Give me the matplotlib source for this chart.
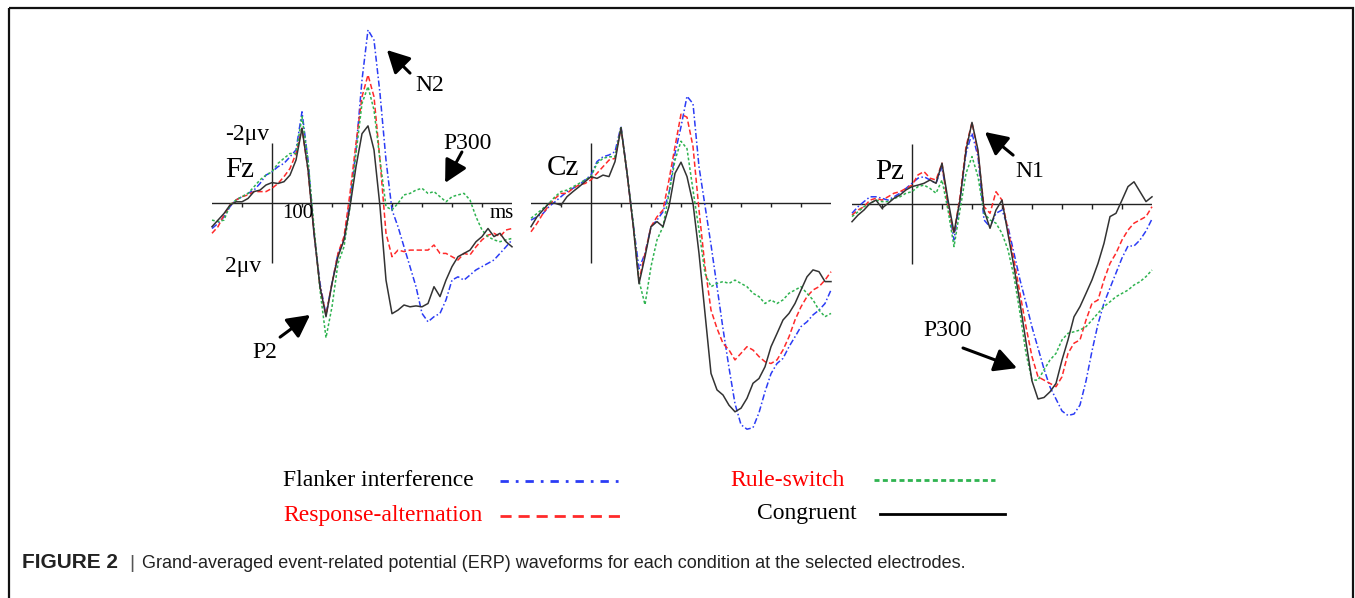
import matplotlib.pyplot as plt
import numpy as np
from matplotlib.patches import Rectangle

W, H = 1355, 598
SERIF = 'Liberation Serif'

# sample times (ms) shared by every waveform
times = np.arange(-200, 801, 20)

# ---- Fz (uV, negative drawn upward) ----
fz_flanker = [0.86, 0.69, 0.47, 0.13, -0.09, -0.2, -0.31, -0.42, -0.64, -0.92, -1.03,
              -1.2, -1.31, -1.53, -1.76, -3.03, -1.42, 1.02, 2.69, 3.74, 2.69,
              1.69, 1.24, -0.09, -1.76, -4.09, -5.76, -5.42, -3.64, -1.42, 0.24,
              0.8, 1.47, 2.13, 2.8, 3.69, 3.97, 3.8, 3.69, 3.24, 2.58,
              2.47, 2.58, 2.41, 2.24, 2.13, 2.02, 1.91, 1.69, 1.47, 1.24]
fz_response = [1.02, 0.8, 0.41, 0.08, -0.09, -0.2, -0.26, -0.37, -0.37, -0.37, -0.48,
               -0.64, -0.87, -1.14, -1.64, -2.48, -1.09, 1.02, 2.8, 3.74, 2.69,
               1.69, 1.13, -0.31, -1.98, -3.53, -4.26, -3.53, -1.42, 1.02, 1.8,
               1.58, 1.63, 1.58, 1.58, 1.58, 1.58, 1.41, 1.69, 1.69, 1.8,
               1.91, 1.69, 1.74, 1.47, 1.24, 1.08, 1.02, 1.13, 0.91, 0.86]
fz_rule = [0.58, 0.63, 0.58, 0.08, -0.09, -0.2, -0.31, -0.53, -0.76, -0.92, -1.03,
           -1.31, -1.48, -1.64, -1.64, -2.87, -1.42, 0.8, 2.91, 4.5, 3.47,
           2.02, 1.47, 0.13, -1.64, -3.31, -3.87, -3.09, -1.42, 0.13, 0.24,
           0.02, -0.26, -0.31, -0.42, -0.48, -0.31, -0.37, -0.2, -0.03, -0.2,
           -0.26, -0.31, -0.09, 0.47, 0.91, 1.13, 1.24, 1.3, 1.24, 1.19]
fz_congruent = [0.8, 0.58, 0.36, 0.08, -0.03, -0.03, -0.14, -0.37, -0.42, -0.59, -0.67,
                -0.64, -0.7, -0.92, -1.42, -2.48, -1.1, 1.02, 2.8, 3.8, 2.69,
                1.8, 1.24, 0.13, -1.2, -2.3, -2.56, -1.76, 0.13, 2.58, 3.7,
                3.58, 3.41, 3.47, 3.44, 3.47, 3.36, 2.8, 3.13, 2.58, 2.13,
                1.8, 1.69, 1.58, 1.3, 1.13, 0.86, 1.13, 1.02, 1.3, 1.47]

# ---- Cz ----
cz_flanker = [0.58, 0.47, 0.36, 0.13, -0.03, -0.2, -0.37, -0.48, -0.59, -0.76, -0.92,
              -1.37, -1.53, -1.59, -1.7, -2.55, -1.0, 0.65, 2.2, 1.69, 0.8,
              0.58, 0.3, -0.31, -1.64, -2.53, -3.55, -3.3, -1.2, 0.1, 1.4,
              2.8, 4.2, 5.5, 6.7, 7.4, 7.55, 7.5, 7.0, 6.3, 5.7,
              5.36, 5.19, 4.8, 4.47, 4.13, 3.97, 3.74, 3.58, 3.36, 2.91]
cz_response = [0.97, 0.69, 0.36, 0.08, -0.14, -0.31, -0.31, -0.48, -0.59, -0.64, -0.76,
               -0.98, -1.2, -1.42, -1.48, -2.5, -1.0, 0.7, 2.6, 1.69, 0.8,
               0.47, 0.24, -0.76, -1.87, -2.95, -2.85, -1.87, 0.24, 2.13, 3.58,
               4.19, 4.69, 4.91, 5.24, 5.02, 4.8, 4.91, 5.13, 5.3, 5.36,
               5.24, 4.91, 4.47, 3.91, 3.47, 3.13, 2.91, 2.8, 2.58, 2.3]
cz_rule = [0.52, 0.36, 0.19, 0.02, -0.2, -0.37, -0.42, -0.53, -0.64, -0.76, -0.87,
           -1.31, -1.48, -1.53, -1.53, -2.5, -1.0, 0.6, 2.6, 3.4, 2.13,
           1.24, 0.8, -0.31, -1.42, -2.05, -1.8, -0.42, 0.91, 2.36, 2.8,
           2.69, 2.63, 2.69, 2.58, 2.69, 2.8, 3.02, 3.13, 3.36, 3.24,
           3.36, 3.24, 3.02, 2.91, 2.8, 3.02, 3.24, 3.58, 3.8, 3.69]
cz_congruent = [0.8, 0.47, 0.24, 0.02, 0.02, 0.08, -0.2, -0.37, -0.53, -0.7, -0.87,
                -0.81, -0.92, -0.87, -1.37, -2.5, -1.0, 0.7, 2.7, 1.8, 0.8,
                0.63, 0.8, 0.13, -0.98, -1.35, -0.87, 0.02, 1.69, 3.69, 5.69,
                6.24, 6.41, 6.75, 6.97, 6.85, 6.52, 6.02, 5.86, 5.47, 4.8,
                4.36, 3.91, 3.69, 3.36, 2.91, 2.47, 2.24, 2.3, 2.63, 2.63]

# ---- Pz ----
pz_flanker = [0.31, 0.09, -0.08, -0.24, -0.24, -0.19, -0.13, -0.24, -0.36, -0.52, -0.69,
              -0.86, -0.91, -0.8, -0.69, -1.24, -0.02, 1.2, -0.13, -1.69, -2.36,
              -1.58, 0.53, 0.76, 0.31, 0.2, 0.76, 1.64, 2.53, 3.3, 4.1,
              4.8, 5.5, 6.1, 6.5, 6.9, 7.05, 7.0, 6.7, 5.9, 4.9,
              4.0, 3.3, 2.8, 2.3, 1.8, 1.4, 1.4, 1.2, 0.9, 0.5]
pz_response = [0.37, 0.2, 0.09, -0.13, -0.19, -0.13, -0.24, -0.36, -0.41, -0.52, -0.63,
               -0.97, -1.08, -0.86, -0.8, -1.36, 0.09, 0.98, -0.24, -1.91, -2.72,
               -1.69, 0.09, 0.31, -0.41, -0.13, 0.87, 1.87, 2.98, 4.09, 5.09,
               5.76, 5.87, 5.98, 6.09, 5.76, 4.98, 4.64, 4.53, 3.87, 3.31,
               3.2, 2.53, 1.98, 1.64, 1.2, 0.87, 0.64, 0.53, 0.42, 0.09]
pz_rule = [0.42, 0.26, 0.09, -0.02, -0.13, -0.08, -0.08, -0.19, -0.24, -0.36, -0.41,
           -0.58, -0.63, -0.52, -0.36, -0.8, 0.2, 1.42, 0.2, -1.02, -1.58,
           -0.91, 0.31, 0.53, 0.64, 0.98, 1.53, 2.42, 3.64, 4.98, 5.87,
           5.87, 5.53, 5.2, 4.98, 4.53, 4.31, 4.26, 4.2, 4.09, 3.87,
           3.64, 3.42, 3.26, 3.09, 2.98, 2.87, 2.7, 2.59, 2.42, 2.2]
pz_congruent = [0.59, 0.37, 0.2, -0.02, -0.13, 0.14, -0.02, -0.19, -0.3, -0.47, -0.58,
                -0.63, -0.69, -0.8, -0.69, -1.36, -0.13, 0.95, -0.13, -1.8, -2.72,
                -1.8, 0.2, 0.81, 0.2, -0.13, 1.0, 2.1, 3.3, 4.6, 5.9,
                6.5, 6.45, 6.26, 5.98, 5.2, 4.53, 3.76, 3.42, 2.98, 2.53,
                1.98, 1.31, 0.42, 0.31, -0.13, -0.58, -0.74, -0.41, -0.08, -0.24]

tick_ms = [-100, 100, 200, 300, 400, 500, 600, 700]

labels = ['Flanker interference', 'Response-alternation', 'Rule-switch', 'Congruent']
label_colors = ['black', 'red', 'red', 'black']
colors = ['#2b3cf5', '#ff2a2a', '#2fb350', '#333333']
dash_styles = [(4, 1.6, 1, 1.6), (3.5, 1.8), (1.8, 1.4), None]

PX_MS = 0.3   # pixels per ms
PX_UV = 30    # pixels per microvolt

fig = plt.figure(figsize=(W / 100, H / 100), dpi=100)

# page overlay in pixel coordinates
page = fig.add_axes([0, 0, 1, 1])
page.set_xlim(0, W)
page.set_ylim(H, 0)
page.axis('off')
page.add_patch(Rectangle((9, 8), 1344, 700, fill=False, edgecolor='#111111', lw=1.6))


def panel(x0, y0, name, name_pos):
    left = x0 - 200 * PX_MS
    top, bottom = 10, 450
    ax = fig.add_axes([left / W, 1 - bottom / H, 1000 * PX_MS / W, (bottom - top) / H])
    ax.set_xlim(-200, 800)
    ax.set_ylim((bottom - y0) / PX_UV, (top - y0) / PX_UV)
    ax.axis('off')
    ax.axhline(0, color='#222222', lw=1.0)
    ax.vlines(0, -2, 2, color='#222222', lw=1.0)
    ax.vlines(tick_ms, 0, 0.15, color='#222222', lw=1.0)
    ax.text(name_pos[0], name_pos[1], name, fontsize=21, family=SERIF,
            ha='center', va='center')
    return ax


def draw_waves(ax, series):
    for vals, c, d in zip(series, colors, dash_styles):
        line, = ax.plot(times, vals, color=c, lw=1.1, clip_on=False)
        if d is not None:
            line.set_dashes(d)


def arrow(ax, head, tail):
    ax.annotate('', xy=head, xytext=tail,
                arrowprops=dict(arrowstyle='-|>,head_length=0.8,head_width=0.42',
                                color='black', lw=2.2, mutation_scale=17,
                                shrinkA=0, shrinkB=0))


# Fz
ax_fz = panel(272, 202.7, 'Fz', (-107, -1.09))
draw_waves(ax_fz, [fz_flanker, fz_response, fz_rule, fz_congruent])
ax_fz.text(-83, -2.26, '-2\u03bcv', fontsize=17, family=SERIF, ha='center', va='center')
ax_fz.text(-97, 2.11, '2\u03bcv', fontsize=17, family=SERIF, ha='center', va='center')
ax_fz.text(87, 0.36, '100', fontsize=15, family=SERIF, ha='center', va='center')
ax_fz.text(767, 0.36, 'ms', fontsize=15, family=SERIF, ha='center', va='center')
arrow(ax_fz, (383, -5.09), (460, -4.32))
ax_fz.text(527, -3.92, 'N2', fontsize=17, family=SERIF, ha='center', va='center')
arrow(ax_fz, (577, -0.66), (633, -1.69))
ax_fz.text(653, -1.99, 'P300', fontsize=17, family=SERIF, ha='center', va='center')
arrow(ax_fz, (127, 3.74), (27, 4.48))
ax_fz.text(-23, 4.98, 'P2', fontsize=17, family=SERIF, ha='center', va='center')

# Cz
ax_cz = panel(591, 202.7, 'Cz', (-93, -1.16))
draw_waves(ax_cz, [cz_flanker, cz_response, cz_rule, cz_congruent])

# Pz
ax_pz = panel(912, 204, 'Pz', (-73, -1.07))
draw_waves(ax_pz, [pz_flanker, pz_response, pz_rule, pz_congruent])
arrow(ax_pz, (243, -2.4), (337, -1.63))
ax_pz.text(393, -1.07, 'N1', fontsize=17, family=SERIF, ha='center', va='center')
arrow(ax_pz, (350, 5.47), (170, 4.8))
ax_pz.text(120, 4.2, 'P300', fontsize=17, family=SERIF, ha='center', va='center')

# legend, drawn by hand: label then line sample
leg_text_x = [283, 283, 730, 757]
leg_line_x = [(500, 622), (500, 620), (874, 995), (880, 1005)]
leg_y = [481, 516, 480, 514]
leg_dashes = [(3, 2.5, 1, 2.5), (4, 2.5), (1.8, 1.2), None]
for lab, lc, c, d, tx, lx, y in zip(labels, label_colors, colors, leg_dashes,
                                     leg_text_x, leg_line_x, leg_y):
    page.text(tx, y, lab, color=lc, fontsize=17, family=SERIF, ha='left', va='center')
    ln, = page.plot(lx, [y, y], color=('black' if d is None else c), lw=2)
    if d is not None:
        ln.set_dashes(d)

# caption
page.text(22, 563, 'FIGURE 2', fontsize=15, fontweight='bold', color='#222222',
          family='Liberation Sans', ha='left', va='center')
page.text(129, 563, '|', fontsize=14, color='#555555', family='Liberation Sans',
          ha='left', va='center')
page.text(142, 563, 'Grand-averaged event-related potential (ERP) waveforms for each '
          'condition at the selected electrodes.', fontsize=13, color='#222222',
          family='Liberation Sans', ha='left', va='center')

fig.savefig('out.png', dpi=100)
